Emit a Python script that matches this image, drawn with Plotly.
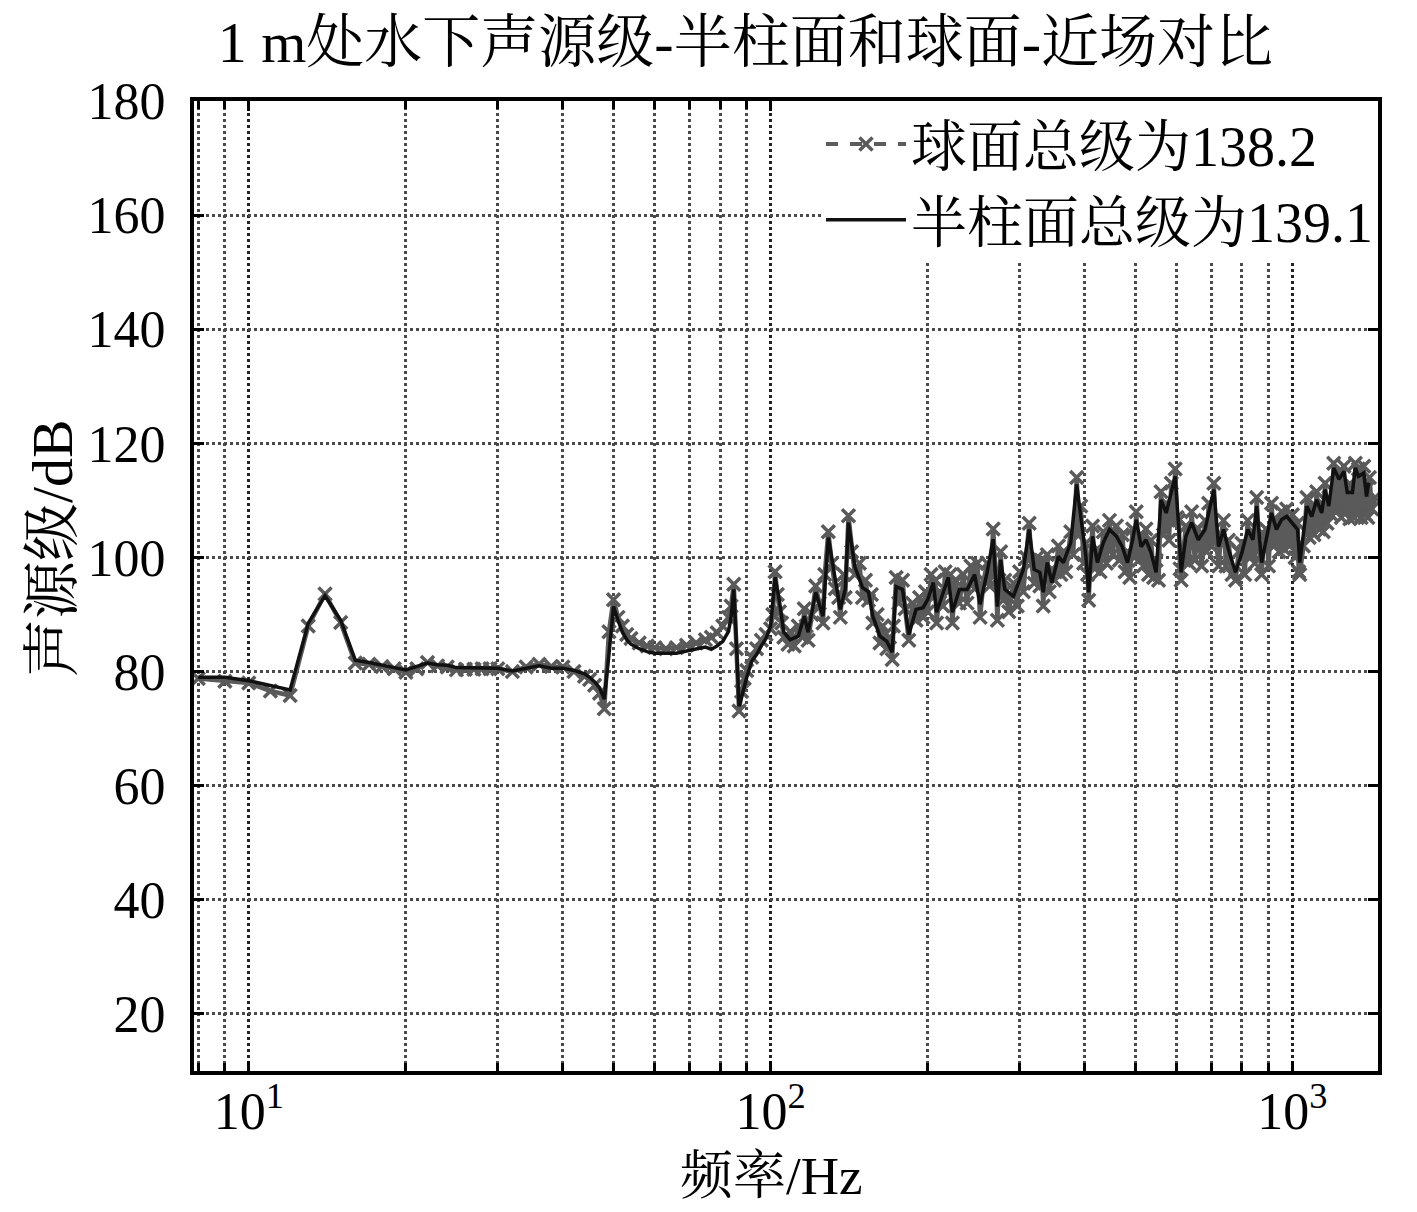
import plotly.graph_objects as go

# 半柱面 (black solid line)
cyl_freq = [8, 9, 10, 11, 12, 13, 14, 15, 16, 17, 18, 19, 20, 21, 22, 23, 24, 25, 26, 27, 28, 29,
            30, 32, 34, 36, 38, 40, 42, 44, 45, 46, 47, 48, 49, 50, 51, 52, 53, 54, 56, 58, 60, 63, 66,
            69, 72, 75, 77, 79, 81, 83, 84, 85, 86, 87, 88, 89, 90, 92, 94, 96, 98, 100,
            102, 104, 106, 109, 113, 116, 118, 122, 126, 129, 133, 136, 139, 141, 145, 150, 154, 157,
            162, 167, 171, 174, 179, 184, 190, 196, 200, 205, 208, 214, 219, 223, 230, 238, 246, 252,
            260, 267, 272, 276, 281, 292, 305, 313, 320, 328, 333, 339, 346, 356, 364, 376, 386, 393,
            402, 407, 414, 423, 434, 446, 460, 472, 483, 494, 502, 513, 524, 536, 548, 560, 573, 586,
            596, 606, 612, 625, 641, 660, 680, 691, 707, 722, 738, 754, 778, 800, 821, 840, 854, 873,
            890, 912, 932, 953, 975, 1000, 1023, 1033, 1066, 1089, 1113, 1138, 1155, 1174, 1200, 1228,
            1255, 1274, 1303, 1320, 1338, 1370, 1387, 1400]
cyl_level = [79.0, 79.0, 78.4, 77.6, 76.8, 88.5, 93.3, 89.0, 82.0, 81.6, 81.2, 80.7, 80.3, 80.9, 81.5,
             81.2, 81.1, 80.7, 80.7, 80.7, 80.7, 80.7,
             80.6, 80.1, 80.6, 81.0, 80.6, 80.6, 80.2, 79.6, 79.0, 78.2, 77.2, 75.2, 83.0, 91.4, 89.0,
             86.9, 85.6, 84.8, 84.0, 83.5, 83.2, 83.2, 83.2, 83.6, 83.9, 84.3, 83.9, 84.5, 85.3, 87.0,
             89.5, 94.4, 85.0, 73.9, 75.5, 77.4, 79.0, 81.8, 83.0, 84.5, 85.8, 88.0,
             96.5, 92.3, 86.9, 85.6, 86.2, 89.7, 86.9, 93.9, 89.7, 103.5, 96.1, 90.9, 94.4, 106.1, 98.4,
             94.7, 94.0, 89.7, 86.2, 85.3, 83.4, 94.9, 94.4, 86.5, 90.9, 91.2, 92.6, 95.6, 90.4, 93.9,
             96.5, 90.4, 94.4, 94.4, 97.0, 91.8, 97.4, 103.2, 91.4, 99.6, 94.4, 93.2, 97.9, 104.9, 97.9,
             97.4, 93.9, 99.1, 95.6, 100.2, 99.1, 102.6, 112.8, 107.2, 100.2, 93.9, 103.7, 99.1, 102.6,
             104.9, 103.7, 101.9, 99.1, 103.1, 106.6, 101.9, 103.1, 100.8, 97.4, 110.1, 107.8, 111.4,
             114.2, 104.9, 97.4, 103.7, 106.1, 103.1, 104.9, 107.8, 111.9, 101.9, 104.9, 101.4, 97.4,
             100.8, 104.9, 103.1, 109.0, 99.1, 103.1, 107.8, 104.9, 106.6, 107.2, 106.1, 104.9, 99.1,
             109.0, 107.2, 110.1, 107.8, 111.9, 109.0, 115.7, 113.7, 115.1, 111.4, 111.4, 115.7, 114.2,
             114.8, 110.7, 113.1]

# 球面 (gray dashed line with x markers)
sph_freq = [8, 9, 10, 11, 12, 13, 14, 15, 16, 17, 18, 19, 20, 21, 22, 23, 24, 25, 26, 27, 28, 29,
            30, 32, 34, 36, 38, 40, 42, 44, 45, 46, 47, 48, 49, 50, 51, 52, 53, 54, 56, 58, 60, 63, 66,
            69, 72, 75, 77, 79, 81, 83, 84, 85, 86, 87, 88, 89, 90, 92, 94, 96, 98, 100,
            101, 102, 103, 104, 105, 106, 108, 109, 111, 113, 115, 116, 117, 118, 120, 122, 124, 126,
            127, 129, 131, 133, 135, 136, 138, 139, 141, 143, 145, 148, 150, 152, 154, 156, 157, 160,
            162, 164, 167, 169, 171, 172, 174, 176, 179, 181, 184, 187, 190, 193, 196, 198, 200, 203,
            205, 207, 208, 211, 214, 216, 219, 221, 223, 226, 230, 234, 238, 242, 246, 249, 252, 256,
            260, 263, 267, 270, 272, 274, 276, 279, 281, 286, 292, 297, 300, 305, 309, 313, 316, 320,
            324, 328, 330, 333, 336, 339, 342, 346, 350, 356, 360, 364, 368, 376, 380, 386, 390, 393,
            398, 402, 405, 407, 410, 414, 418, 423, 428, 434, 440, 446, 452, 460, 466, 472, 478, 483,
            488, 494, 498, 502, 508, 513, 518, 524, 530, 536, 542, 548, 554, 560, 566, 573, 580, 586,
            591, 596, 601, 606, 609, 612, 618, 625, 633, 641, 650, 660, 670, 680, 685, 691, 699, 707,
            714, 722, 730, 738, 746, 754, 766, 778, 789, 800, 810, 821, 830, 840, 847, 854, 863, 873,
            882, 890, 900, 912, 922, 932, 943, 953, 964, 975, 987, 1000, 1012, 1023, 1028, 1033, 1050,
            1066, 1077, 1089, 1100, 1113, 1125, 1138, 1146, 1155, 1165, 1174, 1187, 1200, 1214, 1228,
            1241, 1255, 1265, 1274, 1288, 1303, 1312, 1320, 1330, 1338, 1354, 1370, 1380, 1387, 1395,
            1405, 1420, 1440]
sph_level = [78.8, 78.3, 78.0, 76.6, 75.8, 88.0, 93.6, 88.6, 81.5, 81.3, 80.9, 80.5, 79.9, 80.5, 81.6,
             81.0, 80.8, 80.3, 80.4, 80.4, 80.5, 80.5,
             80.5, 80.0, 80.8, 81.3, 80.9, 80.8, 80.0, 79.2, 78.6, 77.6, 76.2, 73.5, 87.0, 92.6, 89.5,
             88.0, 86.5, 85.8, 85.0, 84.5, 84.2, 84.0, 84.2, 84.6, 85.0, 85.6, 86.0, 86.8, 88.0, 89.5,
             91.5, 95.3, 84.0, 73.1, 76.5, 78.8, 80.2, 82.5, 84.0, 85.5, 86.5, 87.5,
             90.0, 97.5, 93.5, 90.5, 88.5, 86.0, 84.8, 87.0, 84.5, 88.0, 86.0, 91.0, 88.0, 85.5, 90.0,
             95.0, 92.0, 88.5, 97.0, 104.5, 99.0, 94.5, 93.0, 89.5, 97.0, 93.0, 107.3, 101.0, 97.0,
             99.0, 93.0, 96.0, 92.5, 93.5, 88.5, 90.0, 85.0, 88.0, 84.0, 86.0, 82.1, 88.0, 96.5, 92.0,
             96.0, 91.0, 85.5, 92.0, 89.0, 93.0, 89.5, 94.0, 90.5, 97.0, 93.0, 96.0, 88.5, 94.0, 91.5,
             97.5, 94.0, 97.0, 88.5, 96.0, 92.0, 97.0, 92.0, 98.5, 94.5, 99.0, 89.5, 96.0, 99.0, 95.0,
             105.0, 97.0, 89.0, 96.0, 101.0, 92.5, 96.0, 90.5, 95.5, 91.5, 97.5, 94.0, 100.0, 106.0,
             99.0, 95.5, 100.0, 95.0, 99.5, 91.5, 99.0, 100.5, 94.0, 98.0, 96.0, 102.0, 97.0, 101.0,
             97.5, 104.5, 100.5, 114.0, 104.0, 109.0, 99.0, 102.5, 97.0, 92.5, 99.0, 105.5, 98.0, 101.5,
             97.5, 104.5, 99.0, 106.5, 100.5, 105.5, 99.5, 104.0, 97.5, 101.0, 96.5, 105.0, 100.0,
             108.0, 99.5, 104.0, 98.5, 105.0, 97.0, 103.0, 96.5, 99.5, 96.0, 111.5, 104.0, 109.5, 103.0,
             113.0, 106.0, 115.5, 107.0, 106.5, 98.0, 96.0, 101.0, 105.5, 99.0, 108.0, 99.5, 105.0,
             98.5, 106.5, 101.0, 109.5, 102.0, 113.0, 103.0, 98.5, 104.0, 106.5, 98.5, 103.0, 97.0,
             96.0, 101.0, 102.5, 97.0, 106.5, 100.0, 104.5, 99.0, 110.5, 102.0, 97.0, 104.0, 105.0,
             98.5, 109.5, 102.0, 106.5, 101.0, 108.0, 101.5, 108.5, 102.0, 107.5, 100.0, 106.0, 97.5,
             97.0, 102.0, 110.5, 103.5, 109.0, 104.0, 111.5, 105.0, 109.5, 104.5, 113.0, 106.0, 110.5,
             107.5, 116.5, 108.0, 115.0, 107.0, 116.0, 108.5, 112.5, 106.8, 112.5, 107.0, 116.5, 107.5,
             115.5, 107.0, 116.0, 107.5, 112.0, 107.0, 114.0, 108.5, 110.5]

y_ticks = [20, 40, 60, 80, 100, 120, 140, 160, 180]
x_major = [10, 100, 1000]
x_major_text = ['10<sup>1</sup>', '10<sup>2</sup>', '10<sup>3</sup>']
x_minor = [8, 9, 20, 30, 40, 50, 60, 70, 80, 90, 200, 300, 400, 500, 600, 700, 800, 900]

serif = 'Liberation Serif, Noto Serif CJK SC, Noto Sans CJK SC, serif'
gray = '#5a5a5a'

fig = go.Figure()

# legend entry for the sphere curve (dashed line with x marker, as in the original legend)
fig.add_trace(go.Scatter(
    x=[None], y=[None],
    mode='lines+markers',
    name='球面总级为138.2',
    line=dict(color=gray, width=4, dash='dash'),
    marker=dict(symbol='x-thin', size=13, color=gray, line=dict(color=gray, width=3.5))
))

fig.add_trace(go.Scatter(
    x=sph_freq, y=sph_level,
    mode='lines+markers',
    name='球面总级为138.2',
    showlegend=False,
    line=dict(color=gray, width=4.5),
    marker=dict(symbol='x-thin', size=13, color=gray, line=dict(color=gray, width=3.5))
))

fig.add_trace(go.Scatter(
    x=cyl_freq, y=cyl_level,
    mode='lines',
    name='半柱面总级为139.1',
    line=dict(color='#111111', width=3.5)
))

axis_common = dict(
    showline=True, linecolor='black', linewidth=4, mirror='all',
    ticks='inside', ticklen=10, tickwidth=3, tickcolor='black',
    zeroline=False, automargin=False,
    showgrid=True, gridwidth=3, griddash='dot',
    tickfont=dict(family=serif, size=52, color='black'),
)

fig.update_xaxes(
    type='log',
    range=[0.895, 3.164],
    tickvals=x_major, ticktext=x_major_text,
    ticklabelstandoff=-8,
    gridcolor='#222222',
    minor=dict(tickvals=x_minor, ticks='inside', ticklen=8, tickwidth=3, tickcolor='black',
               showgrid=True, gridcolor='#4a4a4a', gridwidth=3, griddash='dot'),
    **axis_common
)

fig.update_yaxes(
    range=[10, 180],
    tickvals=y_ticks,
    ticklabelstandoff=14,
    gridcolor='#4a4a4a',
    **axis_common
)

# page body adds an 8 px offset, so the figure is sized to fit the window
fig.update_layout(
    width=1401, height=1196,
    margin=dict(l=186, r=31, t=93, b=133, autoexpand=False),
    plot_bgcolor='white', paper_bgcolor='white',
    title=dict(text='1 m处水下声源级-半柱面和球面-近场对比', x=0.5263, xanchor='center',
               y=0.9715, yanchor='middle',
               font=dict(family=serif, size=58, color='black')),
    legend=dict(x=1, xanchor='right', y=1.0, yanchor='top',
                bgcolor='white', borderwidth=0, itemwidth=80,
                font=dict(family=serif, size=56, color='black'),
                tracegroupgap=0),
    showlegend=True,
    annotations=[
        dict(text='频率/Hz', xref='paper', yref='paper', x=0.488, y=-0.108,
             xanchor='center', yanchor='middle', showarrow=False,
             font=dict(family=serif, size=53, color='black')),
        dict(text='声源级/dB', xref='paper', yref='paper', x=-0.12, y=0.539,
             xanchor='center', yanchor='middle', showarrow=False, textangle=-90,
             font=dict(family=serif, size=58, color='black')),
    ],
)

fig.write_html('out.html')
